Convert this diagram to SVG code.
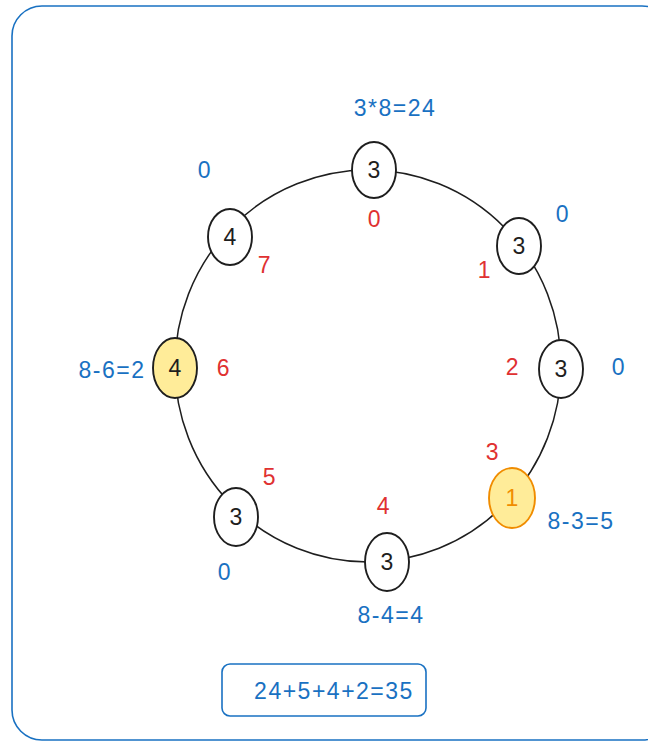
<svg xmlns="http://www.w3.org/2000/svg" width="648" height="742" viewBox="0 0 648 742">
  <style>
    .node ellipse { fill: #ffffff; stroke: #1e1e1e; stroke-width: 1.9; }
    .node.hl ellipse { fill: #ffec99; }
    .node.hl2 ellipse { fill: #ffec99; stroke: #f08c00; }
    .node text { font-family: "Liberation Sans", sans-serif; font-size: 23px; fill: #1e1e1e; text-anchor: middle; dominant-baseline: central; }
    .node.hl2 text { fill: #f08c00; }
    .blue, .red { font-family: "Liberation Sans", sans-serif; font-size: 23px; text-anchor: middle; dominant-baseline: central; letter-spacing: 1.5px; }
    .blue { fill: #1971c2; }
    .red { fill: #e03131; }
    .frame { fill: none; stroke: #1971c2; stroke-width: 1.6; }
    .ring { fill: none; stroke: #1e1e1e; stroke-width: 1.5; }
  </style>

  <!-- outer frame -->
  <rect class="frame" x="12" y="6" width="660" height="734" rx="30"/>

  <!-- ring connecting the nodes -->
  <g id="connectors">
    <ellipse class="ring" cx="368" cy="366" rx="193" ry="196"/>
  </g>

  <!-- nodes -->
  <g id="n-top" class="node"><ellipse cx="374" cy="170" rx="22" ry="28"/><text x="374" y="170">3</text></g>
  <g id="n-upper-left" class="node"><ellipse cx="230" cy="237" rx="22" ry="28"/><text x="230" y="237">4</text></g>
  <g id="n-upper-right" class="node"><ellipse cx="519" cy="246" rx="22" ry="28"/><text x="519" y="246">3</text></g>
  <g id="n-right" class="node"><ellipse cx="561" cy="369" rx="22" ry="29"/><text x="561" y="369">3</text></g>
  <g id="n-left" class="node hl"><ellipse cx="175" cy="368" rx="22" ry="30"/><text x="175" y="368">4</text></g>
  <g id="n-lower-right" class="node hl2"><ellipse cx="512" cy="498" rx="23" ry="30"/><text x="512" y="498">1</text></g>
  <g id="n-lower-left" class="node"><ellipse cx="236" cy="517" rx="22" ry="29"/><text x="236" y="517">3</text></g>
  <g id="n-bottom" class="node"><ellipse cx="387" cy="562" rx="22" ry="29"/><text x="387" y="562">3</text></g>

  <!-- blue annotations -->
  <g id="blue-labels">
    <text class="blue" x="395" y="108">3*8=24</text>
    <text class="blue" x="205" y="170">0</text>
    <text class="blue" x="563" y="214">0</text>
    <text class="blue" x="619" y="367">0</text>
    <text class="blue" x="112" y="370">8-6=2</text>
    <text class="blue" x="581" y="521">8-3=5</text>
    <text class="blue" x="225" y="572">0</text>
    <text class="blue" x="391" y="615">8-4=4</text>
  </g>

  <!-- red indices -->
  <g id="red-labels">
    <text class="red" x="375" y="219">0</text>
    <text class="red" x="265" y="265">7</text>
    <text class="red" x="485" y="270">1</text>
    <text class="red" x="513" y="367">2</text>
    <text class="red" x="224" y="368">6</text>
    <text class="red" x="493" y="452">3</text>
    <text class="red" x="270" y="477">5</text>
    <text class="red" x="384" y="506">4</text>
  </g>

  <!-- total box -->
  <g id="total">
    <rect class="frame" x="222" y="664" width="204" height="52" rx="8"/>
    <text class="blue" x="334" y="691">24+5+4+2=35</text>
  </g>
</svg>
